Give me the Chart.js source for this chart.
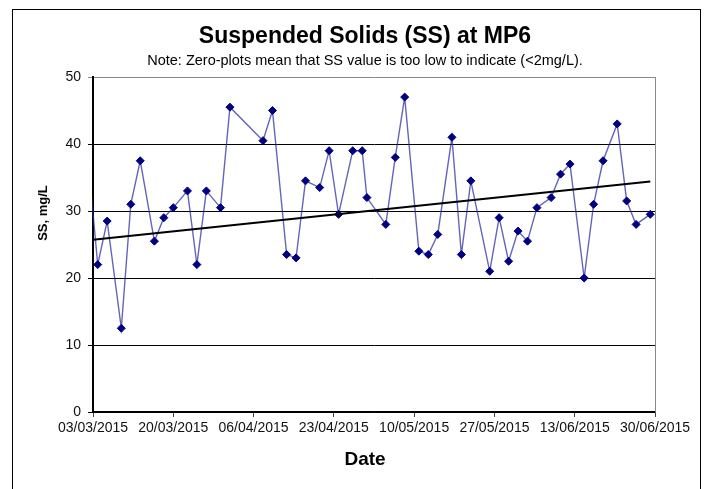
<!DOCTYPE html>
<html>
<head>
<meta charset="utf-8">
<script src="https://cdn.jsdelivr.net/npm/chart.js@4.4.1/dist/chart.umd.min.js"></script>
<style>
  html, body { margin: 0; padding: 0; background: #ffffff; }
  #wrap { width: 709px; height: 489px; }
</style>
</head>
<body>
<div id="wrap"><canvas id="c" width="709" height="489"></canvas></div>
<script>
// ---- data ----
const sampleDates = [
  '02/03/2015','04/03/2015','06/03/2015','09/03/2015','11/03/2015','13/03/2015',
  '16/03/2015','18/03/2015','20/03/2015','23/03/2015','25/03/2015','27/03/2015',
  '30/03/2015','01/04/2015','08/04/2015','10/04/2015','13/04/2015','15/04/2015',
  '17/04/2015','20/04/2015','22/04/2015','24/04/2015','27/04/2015','29/04/2015',
  '30/04/2015','04/05/2015','06/05/2015','08/05/2015','11/05/2015','13/05/2015',
  '15/05/2015','18/05/2015','20/05/2015','22/05/2015','26/05/2015','28/05/2015',
  '30/05/2015','01/06/2015','03/06/2015','05/06/2015','08/06/2015','10/06/2015',
  '12/06/2015','15/06/2015','17/06/2015','19/06/2015','22/06/2015','24/06/2015',
  '26/06/2015','29/06/2015'
];
const ssValues = [
  37.4, 22.0, 28.5, 12.5, 31.0, 37.5,
  25.5, 29.0, 30.5, 33.0, 22.0, 33.0,
  30.5, 45.5, 40.5, 45.0, 23.5, 23.0,
  34.5, 33.5, 39.0, 29.5, 39.0, 39.0,
  32.0, 28.0, 38.0, 47.0, 24.0, 23.5,
  26.5, 41.0, 23.5, 34.5, 21.0, 29.0,
  22.5, 27.0, 25.5, 30.5, 32.0, 35.5,
  37.0, 20.0, 31.0, 37.5, 43.0, 31.5,
  28.0, 29.5
];
const trendDates = ['03/03/2015', '29/06/2015'];
const trendValues = [25.7, 34.4];
const xTickLabels = ['03/03/2015','20/03/2015','06/04/2015','23/04/2015',
                     '10/05/2015','27/05/2015','13/06/2015','30/06/2015'];
const yTickValues = [0, 10, 20, 30, 40, 50];

// ---- helpers ----
const FONT = '"Liberation Sans", Arial, Helvetica, sans-serif';
const ORIGIN = Date.UTC(2015, 2, 3);
function dayOf(s) {
  const [d, m, y] = s.split('/').map(Number);
  return Math.round((Date.UTC(y, m - 1, d) - ORIGIN) / 86400000);
}
const ssPoints = sampleDates.map((d, i) => ({ x: dayOf(d), y: ssValues[i] }));
const trendPoints = trendDates.map((d, i) => ({ x: dayOf(d), y: trendValues[i] }));

const framePlugin = {
  id: 'frame',
  afterLayout(chart) {
    // widen the y scale's label area to the left so the tick labels are not clipped
    chart.scales.y.left = 20;
  },
  beforeDraw(chart) {
    const ctx = chart.ctx;
    ctx.save();
    ctx.fillStyle = '#ffffff';
    ctx.fillRect(0, 0, chart.width, chart.height);
    ctx.strokeStyle = '#000000';
    ctx.lineWidth = 1;
    ctx.strokeRect(12.5, 9.5, 688, 490);
    ctx.restore();
  },
  afterDraw(chart) {
    const ctx = chart.ctx;
    const a = chart.chartArea;
    ctx.save();
    ctx.strokeStyle = '#888888';
    ctx.lineWidth = 1;
    ctx.beginPath();
    ctx.moveTo(Math.round(a.right) + 0.5, a.top);
    ctx.lineTo(Math.round(a.right) + 0.5, a.bottom);
    ctx.stroke();
    ctx.fillStyle = '#000000';
    ctx.textAlign = 'center';
    ctx.textBaseline = 'middle';
    ctx.font = 'bold 19px ' + FONT;
    ctx.fillText('Date', 365, 460);
    ctx.translate(43, 213);
    ctx.rotate(-Math.PI / 2);
    ctx.font = 'bold 13px ' + FONT;
    ctx.fillText('SS, mg/L', 0, 0);
    ctx.restore();
  }
};

new Chart(document.getElementById('c'), {
  type: 'scatter',
  data: {
    datasets: [
      {
        label: 'SS',
        data: ssPoints,
        showLine: true,
        borderColor: 'rgba(40,40,160,0.72)',
        borderWidth: 1.4,
        pointStyle: 'rectRot',
        pointRadius: 4,
        pointHoverRadius: 4,
        pointBackgroundColor: '#000080',
        pointBorderColor: '#000080',
        pointBorderWidth: 1,
        clip: 1,
        order: 1
      },
      {
        label: 'Trend',
        data: trendPoints,
        showLine: true,
        borderColor: '#000000',
        borderWidth: 2,
        pointRadius: 0,
        pointHoverRadius: 0,
        clip: 1,
        order: 0
      }
    ]
  },
  options: {
    responsive: false,
    animation: false,
    devicePixelRatio: 1,
    events: [],
    layout: { padding: { top: 10, left: 75, right: 54, bottom: 10 } },
    plugins: {
      legend: { display: false },
      tooltip: { enabled: false },
      title: {
        display: true,
        text: 'Suspended Solids (SS) at MP6',
        color: '#000000',
        font: { family: FONT, size: 23, weight: 'bold', lineHeight: 1.2 },
        padding: { top: 13, bottom: 2 }
      },
      subtitle: {
        display: true,
        text: 'Note: Zero-plots mean that SS value is too low to indicate (<2mg/L).',
        color: '#000000',
        font: { family: FONT, size: 14.5, lineHeight: 1.2 },
        padding: { top: 0, bottom: 7 }
      }
    },
    scales: {
      x: {
        type: 'linear',
        min: dayOf(xTickLabels[0]),
        max: dayOf(xTickLabels[xTickLabels.length - 1]),
        afterBuildTicks(scale) {
          scale.ticks = xTickLabels.map(s => ({ value: dayOf(s) }));
        },
        afterFit(scale) { scale.height = 67; },
        ticks: {
          autoSkip: false,
          maxRotation: 0,
          minRotation: 0,
          padding: 3,
          color: '#111111',
          font: { family: FONT, size: 14 },
          callback: (v, i) => xTickLabels[i]
        },
        grid: {
          drawOnChartArea: false,
          drawTicks: true,
          tickLength: 5,
          color: '#444444',
          lineWidth: 1
        },
        border: { display: true, color: '#000000', width: 1.5 }
      },
      y: {
        type: 'linear',
        min: yTickValues[0],
        max: yTickValues[yTickValues.length - 1],
        afterBuildTicks(scale) {
          scale.ticks = yTickValues.map(v => ({ value: v }));
        },
        afterFit(scale) { scale.width = 18; },
        ticks: {
          padding: 7,
          color: '#111111',
          font: { family: FONT, size: 14 }
        },
        grid: {
          drawTicks: true,
          tickLength: 5,
          color: (c) => (c.tick && c.tick.value === 50 ? '#888888' : '#000000'),
          lineWidth: 1
        },
        border: { display: true, color: '#000000', width: 2 }
      }
    }
  },
  plugins: [framePlugin]
});
</script>
</body>
</html>
